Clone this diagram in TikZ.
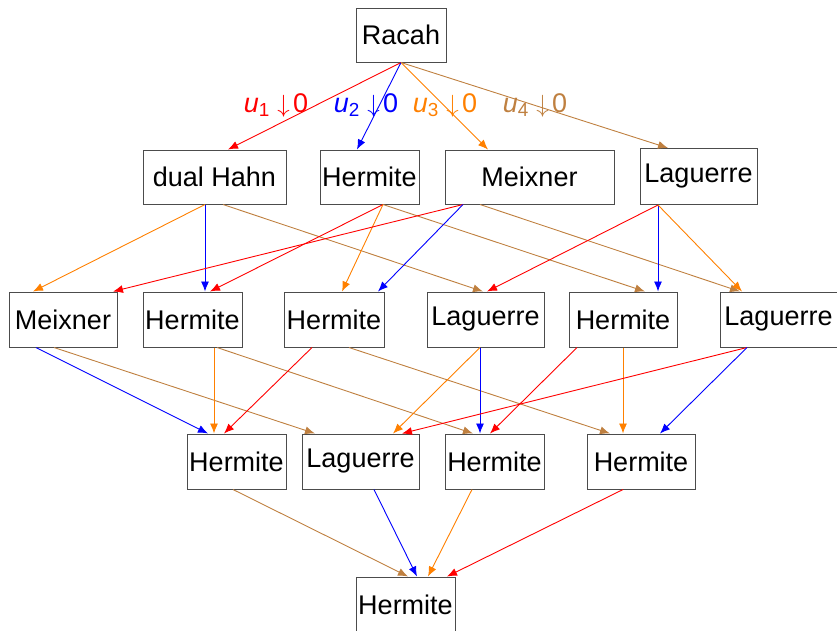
\documentclass[tikz,border=0pt]{standalone}
\usepackage{fontspec}
\setmainfont{Liberation Sans}
\usetikzlibrary{arrows.meta}
\definecolor{cbrown}{rgb}{0.75,0.5,0.25}
\definecolor{corange}{rgb}{1,0.5,0}
\begin{document}
\begin{tikzpicture}[x=1pt,y=-1pt,
  box/.style={draw=black!70,line width=1pt,inner sep=0pt,minimum height=54pt,font=\fontsize{27}{31}\selectfont},
  lbl/.style={inner sep=0pt,font=\fontsize{27}{31}\selectfont},
  e/.style={line width=0.9pt,-{Latex[length=10pt,width=8pt]}}]
\useasboundingbox (0,0) rectangle (837,630);
\newcommand\edg[5]{\draw[e,#1] ([xshift=#3pt]#2.south) -- ([xshift=#5pt]#4.north);}
\newcommand\ulab[1]{{\itshape u}\textsubscript{#1}\hspace{0.28em}$\downarrow$\hspace{0.12em}0}
% nodes
\node[box,minimum width=90pt] (R) at (401,35) {Racah};
\node[box,minimum width=143pt] (D1) at (214.5,177) {dual Hahn};
\node[box,minimum width=99pt] (H1) at (369.5,177) {Hermite};
\node[box,minimum width=169pt] (M1) at (529.5,177) {Meixner};
\node[box,minimum width=117pt,minimum height=56pt] (L1) at (698.5,176.5) {Laguerre};
\node[box,minimum width=108pt,minimum height=55pt] (M2) at (63,319.5) {Meixner};
\node[box,minimum width=99pt,minimum height=55pt] (H2a) at (192.5,319.5) {Hermite};
\node[box,minimum width=100pt,minimum height=55pt] (H2b) at (334,319.5) {Hermite};
\node[box,minimum width=117pt,minimum height=55pt] (L2a) at (485.5,319.5) {Laguerre};
\node[box,minimum width=108pt,minimum height=55pt] (H2c) at (623,319.5) {Hermite};
\node[box,minimum width=117pt,minimum height=55pt] (L2b) at (778.5,319.5) {Laguerre};
\node[box,minimum width=99pt,minimum height=55pt] (H3a) at (236.5,461.5) {Hermite};
\node[box,minimum width=117pt,minimum height=55pt] (L3) at (360.5,461.5) {Laguerre};
\node[box,minimum width=99pt,minimum height=55pt] (H3b) at (494.5,461.5) {Hermite};
\node[box,minimum width=108pt,minimum height=55pt] (H3c) at (641,461.5) {Hermite};
\node[box,minimum width=99pt,minimum height=55pt] (H4) at (405.5,604.5) {Hermite};
% labels
\node[lbl,red] (u1) at (276,105) {\ulab{1}};
\node[lbl,blue] (u2) at (366,105) {\ulab{2}};
\node[lbl,corange] (u3) at (445,105) {\ulab{3}};
\node[lbl,cbrown] (u4) at (535,105) {\ulab{4}};
% row 0 -> 1
\edg{red}{R}{0}{D1}{13.5}
\edg{blue}{R}{0}{H1}{-12.5}
\edg{corange}{R}{0}{M1}{-41.5}
\edg{cbrown}{R}{0}{L1}{-30.5}
% row 1 -> 2
\edg{corange}{D1}{-9.5}{M2}{-30}
\edg{blue}{D1}{-9.5}{H2a}{12.5}
\edg{cbrown}{D1}{8.5}{L2a}{-2.5}
\edg{red}{H1}{13.5}{H2a}{17.5}
\edg{corange}{H1}{13.5}{H2b}{8}
\edg{cbrown}{H1}{13.5}{H2c}{22}
\edg{red}{M1}{-66.5}{M2}{50}
\edg{blue}{M1}{-66.5}{H2b}{44}
\edg{cbrown}{M1}{-49.5}{L2b}{-38.5}
\edg{red}{L1}{-40.5}{L2a}{1.5}
\edg{blue}{L1}{-40.5}{H2c}{35}
\edg{corange}{L1}{-40.5}{L2b}{-36.5}
% row 2 -> 3
\edg{blue}{M2}{-27}{H3a}{-28.5}
\edg{cbrown}{M2}{-9}{L3}{-45.5}
\edg{corange}{H2a}{21.5}{H3a}{-22.5}
\edg{cbrown}{H2a}{24.5}{H3b}{-21.5}
\edg{red}{H2b}{-22}{H3a}{-12.5}
\edg{cbrown}{H2b}{15}{H3c}{-31}
\edg{corange}{L2a}{-5.5}{L3}{32.5}
\edg{blue}{L2a}{-5.5}{H3b}{-14.5}
\edg{red}{H2c}{-46}{H3b}{-4.5}
\edg{corange}{H2c}{0}{H3c}{-18}
\edg{red}{L2b}{-31.5}{L3}{41.5}
\edg{blue}{L2b}{-31.5}{H3c}{19}
% row 3 -> 4
\edg{cbrown}{H3a}{-3.5}{H4}{2.5}
\edg{blue}{L3}{13.5}{H4}{11.5}
\edg{corange}{H3b}{-22.5}{H4}{22.5}
\edg{red}{H3c}{-18}{H4}{41.5}
\end{tikzpicture}
\end{document}
